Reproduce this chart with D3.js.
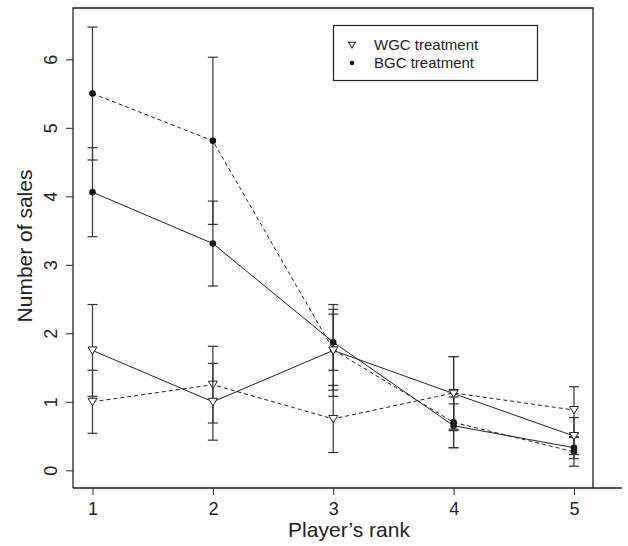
<!DOCTYPE html>
<html>
<head>
<meta charset="utf-8">
<script src="https://cdn.jsdelivr.net/npm/d3@7"></script>
<style>
    body { margin: 0; background: #fff; }
    text { font-family: "Liberation Sans", Arial, sans-serif; fill: #222; }
</style>
</head>
<body>
<div class="chart"></div>
<script>
const ranks = [1, 2, 3, 4, 5];
const xTicks = [1, 2, 3, 4, 5];
const yTicks = [0, 1, 2, 3, 4, 5, 6];

// WGC treatment (triangles)
const wgcSolid = [1.75, 1.00, 1.75, 1.12, 0.50];
const wgcSolidErr = [0.67, 0.56, 0.67, 0.54, 0.27];
const wgcDashed = [1.00, 1.25, 0.75, 1.13, 0.88];
const wgcDashedErr = [0.46, 0.56, 0.49, 0.53, 0.34];

// BGC treatment (dots)
const bgcSolid = [4.06, 3.31, 1.87, 0.65, 0.33];
const bgcSolidErr = [0.65, 0.62, 0.41, 0.32, 0.16];
const bgcDashed = [5.50, 4.81, 1.76, 0.70, 0.27];
const bgcDashedErr = [0.97, 1.22, 0.59, 0.37, 0.21];

const legendLabels = ['WGC treatment', 'BGC treatment'];

const width = 628;
const height = 546;
const box = { left: 73, top: 8, right: 593, bottom: 488, axisEnd: 622 };

const svg = d3.select('.chart').append('svg')
    .attr('width', width)
    .attr('height', height);

const x = d3.scaleLinear().domain([1, 5]).range([92.5, 574]);
const y = d3.scaleLinear().domain([0, 6]).range([470.3, 59.3]);

// frame
const frame = svg.append('g').attr('stroke', '#222').attr('stroke-width', 1.3).attr('fill', 'none');
frame.append('path').attr('d', 'M' + box.left + ',' + box.bottom + 'V' + box.top + 'H' + box.right + 'V' + box.bottom);
frame.append('path').attr('d', 'M' + box.left + ',' + box.bottom + 'H' + box.axisEnd);

// axes
const xAxis = svg.append('g')
    .attr('transform', 'translate(0,' + box.bottom + ')')
    .call(d3.axisBottom(x).tickValues(xTicks).tickSize(7).tickSizeOuter(0).tickFormat(d3.format('d')));
xAxis.select('.domain').remove();
xAxis.selectAll('line').attr('stroke', '#222');
xAxis.selectAll('text').attr('font-size', 18).attr('dy', null).attr('y', 27);

const yAxis = svg.append('g')
    .attr('transform', 'translate(' + box.left + ',0)')
    .call(d3.axisLeft(y).tickValues(yTicks).tickSize(7).tickSizeOuter(0).tickFormat(d3.format('d')));
yAxis.select('.domain').remove();
yAxis.selectAll('line').attr('stroke', '#222');
yAxis.selectAll('text')
    .attr('font-size', 18)
    .attr('x', null).attr('dy', null)
    .attr('text-anchor', 'middle')
    .attr('transform', 'translate(-16,0) rotate(-90)');

// axis titles
svg.append('text')
    .attr('x', 349).attr('y', 537)
    .attr('text-anchor', 'middle')
    .attr('font-size', 21)
    .text('Player\u2019s rank');
svg.append('text')
    .attr('transform', 'translate(32,246) rotate(-90)')
    .attr('text-anchor', 'middle')
    .attr('font-size', 21)
    .text('Number of sales');

const series = [
    { values: bgcDashed, err: bgcDashedErr, dash: '4,3', shape: 'dot' },
    { values: bgcSolid, err: bgcSolidErr, dash: null, shape: 'dot' },
    { values: wgcDashed, err: wgcDashedErr, dash: '4,3', shape: 'tri' },
    { values: wgcSolid, err: wgcSolidErr, dash: null, shape: 'tri' },
];

const line = d3.line()
    .x((d) => x(d.rank))
    .y((d) => y(d.value));

const triangle = 'M-4.5,-3.5L4.5,-3.5L0,4Z';

series.forEach(function (s) {
    const pts = ranks.map((r, i) => ({ rank: r, value: s.values[i], err: s.err[i] }));
    const g = svg.append('g');

    g.append('path')
        .datum(pts)
        .attr('d', line)
        .attr('fill', 'none')
        .attr('stroke', '#222')
        .attr('stroke-width', 1)
        .attr('stroke-dasharray', s.dash);

    const bars = g.selectAll('.err').data(pts).enter().append('g')
        .attr('stroke', '#333')
        .attr('stroke-width', 1.2);
    bars.append('line')
        .attr('x1', (d) => x(d.rank)).attr('x2', (d) => x(d.rank))
        .attr('y1', (d) => y(d.value - d.err)).attr('y2', (d) => y(d.value + d.err));
    bars.append('line')
        .attr('x1', (d) => x(d.rank) - 5).attr('x2', (d) => x(d.rank) + 5)
        .attr('y1', (d) => y(d.value + d.err)).attr('y2', (d) => y(d.value + d.err));
    bars.append('line')
        .attr('x1', (d) => x(d.rank) - 5).attr('x2', (d) => x(d.rank) + 5)
        .attr('y1', (d) => y(d.value - d.err)).attr('y2', (d) => y(d.value - d.err));

    s.pts = pts;
    s.g = g;
});

series.forEach(function (s) {
    if (s.shape === 'dot') {
        s.g.selectAll('.pt').data(s.pts).enter().append('circle')
            .attr('cx', (d) => x(d.rank))
            .attr('cy', (d) => y(d.value))
            .attr('r', 3.3)
            .attr('fill', '#111');
    } else {
        s.g.selectAll('.pt').data(s.pts).enter().append('path')
            .attr('d', triangle)
            .attr('transform', (d) => 'translate(' + x(d.rank) + ',' + y(d.value) + ')')
            .attr('fill', '#fff')
            .attr('stroke', '#222')
            .attr('stroke-width', 1);
    }
});

// legend
const legend = svg.append('g');
legend.append('rect')
    .attr('x', 333.5).attr('y', 25.5)
    .attr('width', 204).attr('height', 55)
    .attr('fill', '#fff')
    .attr('stroke', '#222')
    .attr('stroke-width', 1.2);
legend.append('path')
    .attr('d', 'M-3.5,-2.8L3.5,-2.8L0,3Z')
    .attr('transform', 'translate(352,45)')
    .attr('fill', '#fff')
    .attr('stroke', '#222')
    .attr('stroke-width', 1.1);
legend.append('circle')
    .attr('cx', 352).attr('cy', 63)
    .attr('r', 2.3)
    .attr('fill', '#111');
legend.selectAll('.lbl').data(legendLabels).enter().append('text')
    .attr('x', 374)
    .attr('y', (d, i) => 50 + i * 18)
    .attr('font-size', 15)
    .text((d) => d);
</script>
</body>
</html>
